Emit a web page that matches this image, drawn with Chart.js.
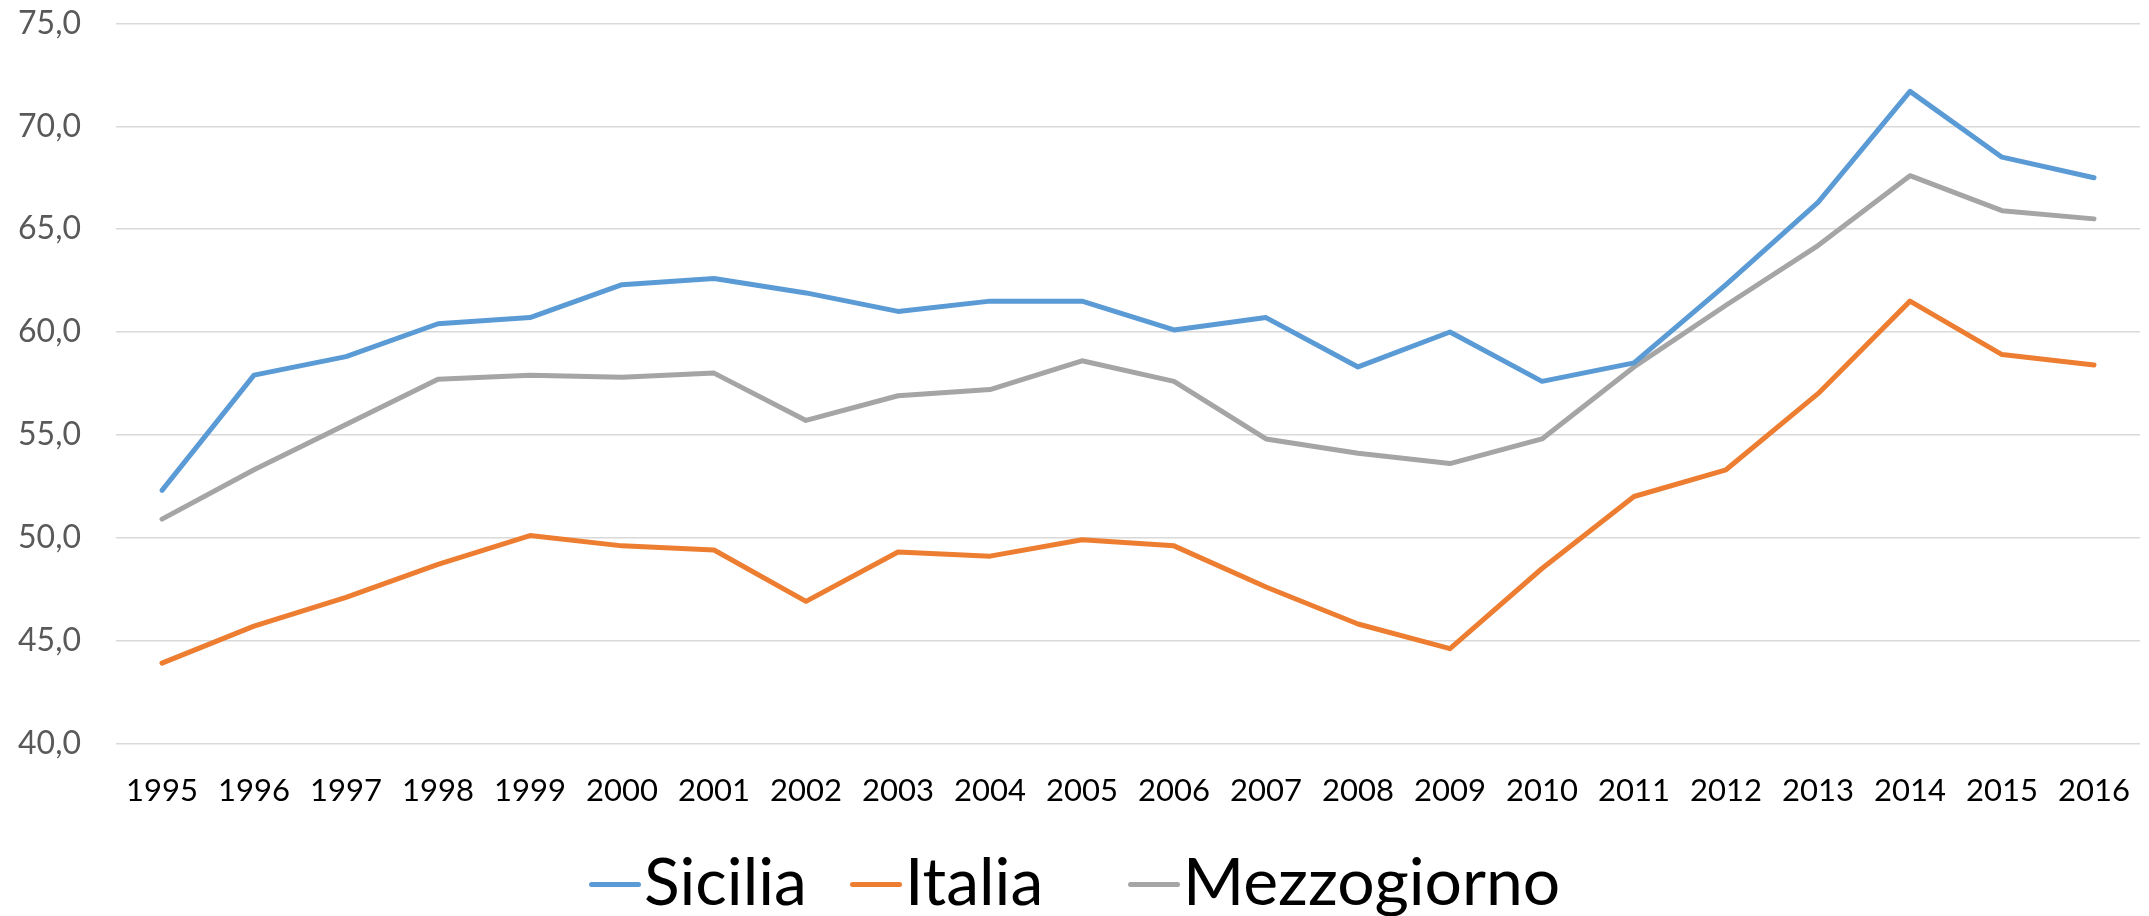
<!DOCTYPE html>
<html>
<head>
<meta charset="utf-8">
<script src="https://cdn.jsdelivr.net/npm/chart.js@4.4.1/dist/chart.umd.min.js"></script>
<style>
  html, body { margin: 0; padding: 0; background: #ffffff; }
  #wrap { position: relative; width: 2149px; height: 916px; overflow: hidden; }
  #c { position: absolute; left: 0; top: 0; }
  .swatch { position: absolute; width: 52px; height: 5px; border-radius: 2.5px; }
  .ltext { position: absolute; font-family: Lato, 'Open Sans', sans-serif; font-size: 66px; line-height: 66px; color: #000; white-space: nowrap; }
</style>
</head>
<body>
<div id="wrap">
  <canvas id="c" width="2149" height="916"></canvas>
</div>
<script>
const years = ['1995','1996','1997','1998','1999','2000','2001','2002','2003','2004','2005','2006','2007','2008','2009','2010','2011','2012','2013','2014','2015','2016'];
const sicilia = [52.3, 57.9, 58.8, 60.4, 60.7, 62.3, 62.6, 61.9, 61.0, 61.5, 61.5, 60.1, 60.7, 58.3, 60.0, 57.6, 58.5, 62.3, 66.3, 71.7, 68.5, 67.5];
const italia = [43.9, 45.7, 47.1, 48.7, 50.1, 49.6, 49.4, 46.9, 49.3, 49.1, 49.9, 49.6, 47.6, 45.8, 44.6, 48.5, 52.0, 53.3, 57.0, 61.5, 58.9, 58.4];
const mezzogiorno = [50.9, 53.3, 55.5, 57.7, 57.9, 57.8, 58.0, 55.7, 56.9, 57.2, 58.6, 57.6, 54.8, 54.1, 53.6, 54.8, 58.3, 61.3, 64.2, 67.6, 65.9, 65.5];
const seriesNames = ['Sicilia', 'Italia', 'Mezzogiorno'];
const seriesColors = ['#5B9BD5', '#ED7D31', '#A5A5A5'];
const yMin = 40, yMax = 75, yStep = 5;

const seriesData = [sicilia, italia, mezzogiorno];
const datasets = seriesNames.map((name, i) => ({
  label: name,
  data: seriesData[i],
  borderColor: seriesColors[i],
  backgroundColor: seriesColors[i],
  borderWidth: 5,
  pointRadius: 0,
  pointHoverRadius: 0,
  tension: 0,
  borderCapStyle: 'round',
  borderJoinStyle: 'round',
  fill: false
}));

const CHART_TOP = 23.5, CHART_LEFT = 116, CHART_BOTTOM = 743.3, CHART_RIGHT_PAD = 9;

const chart = new Chart(document.getElementById('c'), {
  type: 'line',
  data: { labels: years, datasets: datasets },
  options: {
    responsive: false,
    animation: false,
    devicePixelRatio: 1,
    layout: { padding: { top: CHART_TOP, left: 0, right: CHART_RIGHT_PAD, bottom: 0 } },
    plugins: { legend: { display: false }, tooltip: { enabled: false } },
    scales: {
      x: {
        offset: true,
        grid: { display: false, drawTicks: false },
        border: { display: false },
        ticks: {
          color: '#000000',
          padding: 29,
          maxRotation: 0,
          minRotation: 0,
          autoSkip: false,
          font: { family: "Lato, 'Open Sans', sans-serif", size: 31 }
        },
        afterFit: s => { s.height = 916 - CHART_BOTTOM; s.paddingLeft = 0; s.paddingRight = 0; }
      },
      y: {
        min: yMin,
        max: yMax,
        grid: { color: '#D9D9D9', lineWidth: 1.5, drawTicks: false },
        border: { display: false },
        ticks: {
          stepSize: yStep,
          color: '#595959',
          padding: 35,
          font: { family: "Lato, 'Open Sans', sans-serif", size: 32 },
          callback: v => v.toFixed(1).replace('.', ',')
        },
        afterFit: s => { s.width = CHART_LEFT; s.paddingTop = 0; s.paddingBottom = 0; }
      }
    }
  }
});

// legend (HTML, built from the chart's datasets)
const legendX = [589, 850, 1128];
const wrap = document.getElementById('wrap');
chart.data.datasets.forEach((ds, i) => {
  const sw = document.createElement('div');
  sw.className = 'swatch';
  sw.style.left = legendX[i] + 'px';
  sw.style.top = '881.5px';
  sw.style.background = ds.borderColor;
  const tx = document.createElement('div');
  tx.className = 'ltext';
  tx.style.left = (legendX[i] + 55) + 'px';
  tx.style.top = '846.5px';
  tx.textContent = ds.label;
  wrap.appendChild(sw);
  wrap.appendChild(tx);
});
</script>
</body>
</html>
